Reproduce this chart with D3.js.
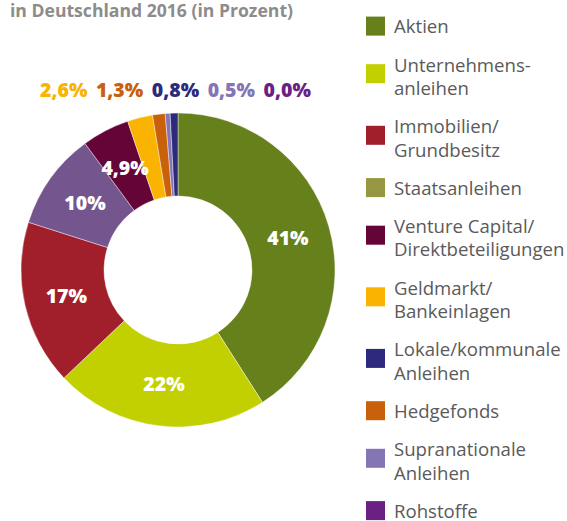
<!DOCTYPE html>
<html><head><meta charset="utf-8">
<script src="https://cdn.jsdelivr.net/npm/d3@7"></script>
<style>body{margin:0;background:#fff} svg{display:block}</style>
</head><body><svg id="c" width="567" height="521"></svg>
<script>
const title = "in Deutschland 2016 (in Prozent)";
const categories = ["Aktien","Unternehmensanleihen","Immobilien/Grundbesitz","Staatsanleihen","Venture Capital/Direktbeteiligungen","Geldmarkt/Bankeinlagen","Lokale/kommunale Anleihen","Hedgefonds","Supranationale Anleihen","Rohstoffe"];
const legendLines = [["Aktien"],["Unternehmens-","anleihen"],["Immobilien/","Grundbesitz"],["Staatsanleihen"],["Venture Capital/","Direktbeteiligungen"],["Geldmarkt/","Bankeinlagen"],["Lokale/kommunale","Anleihen"],["Hedgefonds"],["Supranationale","Anleihen"],["Rohstoffe"]];
const values = [41, 22, 17, 10, 4.9, 2.6, 0.8, 1.3, 0.5, 0.0];
const valueLabels = ["41%","22%","17%","10%","4,9%","2,6%","0,8%","1,3%","0,5%","0,0%"];
const legendColors = ["#66801c","#c2cf00","#a01f2a","#969841","#650437","#f9b300","#2d2a7d","#c9600a","#8575b4","#6a2183"];
const sliceColors  = ["#66801c","#c2cf00","#a01f2a","#74558e","#650437","#f9b300","#2d2a7d","#c9600a","#8575b4","#6a2183"];
const pieOrder = [0,1,2,3,4,5,7,8,6,9];
const insideLabels = [0,1,2,3,4];
const outsideLabels = [5,7,6,8,9];

const svg = d3.select("#c");
const font = "'Open Sans', sans-serif";

// title
svg.append("text").attr("x", 10).attr("y", 16.5)
  .attr("font-family", font).attr("font-weight", 700).attr("font-size", 17)
  .attr("fill", "#8c8c8c").attr("textLength", 283).attr("lengthAdjust", "spacingAndGlyphs")
  .text(title);

// donut
const cx = 178, cy = 270, rOuter = 157, rInner = 74;
const g = svg.append("g").attr("transform", `translate(${cx},${cy})`);
const pie = d3.pie().sort(null).value(i => values[i]).startAngle(0).endAngle(2 * Math.PI);
const arcs = pie(pieOrder);
const arc = d3.arc().innerRadius(rInner).outerRadius(rOuter);
const rl = (rInner + rOuter) / 2 - 1;
const labelArc = d3.arc().innerRadius(rl).outerRadius(rl);
g.selectAll("path.slice").data(arcs).join("path")
  .attr("class", "slice")
  .attr("d", arc)
  .attr("fill", d => sliceColors[d.data])
  .attr("stroke", "#ffffff").attr("stroke-width", 0.6)
  .attr("stroke-opacity", d => d.endAngle - d.startAngle > 0 ? 0.7 : 0);

g.selectAll("text.in").data(arcs.filter(d => insideLabels.includes(d.data))).join("text")
  .attr("class", "in")
  .attr("transform", d => `translate(${labelArc.centroid(d)})`)
  .attr("text-anchor", "middle").attr("dy", "0.36em")
  .attr("font-family", font).attr("font-weight", 800).attr("font-size", 19.5)
  .attr("fill", "#ffffff")
  .text(d => valueLabels[d.data]);

// outside labels row
let ox = 40;
outsideLabels.forEach(i => {
  const t = svg.append("text").attr("x", ox).attr("y", 97)
    .attr("font-family", font).attr("font-weight", 800).attr("font-size", 19.5)
    .attr("fill", legendColors[i]).text(valueLabels[i]);
  ox += t.node().getComputedTextLength() + 8.5;
});

// legend
const lx = 366, tx = 394, sq = 19, lineH = 23.3, itemGap = 38.3;
let base = 33.3;
const lg = svg.append("g");
legendLines.forEach((lines, i) => {
  const n = lines.length;
  const center = base - 7.2 + (n - 1) * 9.3;
  lg.append("rect").attr("x", lx).attr("y", center - sq / 2).attr("width", sq).attr("height", sq)
    .attr("fill", legendColors[i]);
  lines.forEach((s, k) => {
    lg.append("text").attr("x", tx).attr("y", base + k * lineH)
      .attr("font-family", font).attr("font-size", 18.6).attr("fill", "#5a5a5a")
      .text(s);
  });
  base += (n - 1) * lineH + itemGap;
});
</script></body></html>
